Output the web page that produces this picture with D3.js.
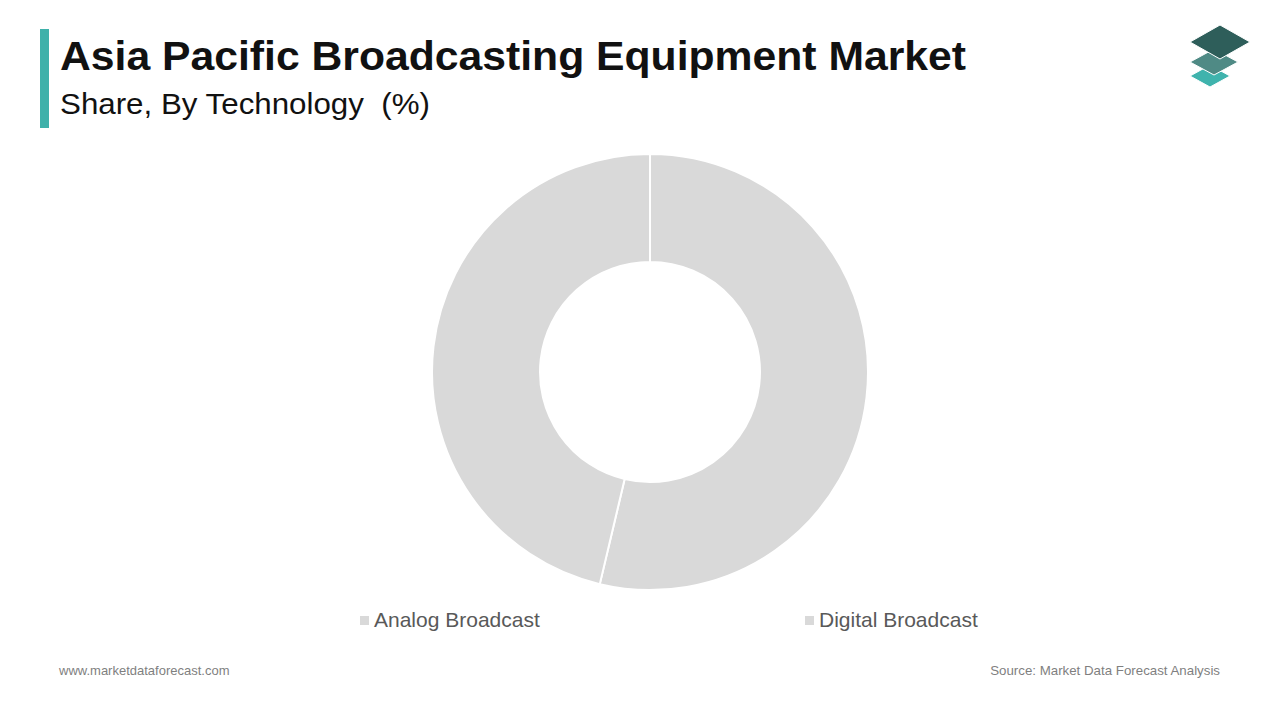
<!DOCTYPE html>
<html><head><meta charset="utf-8">
<script src="https://cdn.jsdelivr.net/npm/d3@7"></script>
<style>body{margin:0;background:#fff;font-family:Arial,"Liberation Sans",sans-serif}</style>
</head><body><div id="chart"></div>
<script>
const categories = ["Analog Broadcast", "Digital Broadcast"];
const shares = [53.7, 46.3];
const colors = ["#d9d9d9", "#d9d9d9"];

const width = 1280, height = 720;
const svg = d3.select("#chart").append("svg").attr("width", width).attr("height", height);

svg.append("rect").attr("x", 40).attr("y", 29).attr("width", 9).attr("height", 99).attr("fill", "#3fb1aa");
svg.append("text").attr("x", 60).attr("y", 70).attr("font-size", 40).attr("font-weight", "bold").attr("fill", "#111")
    .attr("textLength", 906).attr("lengthAdjust", "spacingAndGlyphs")
    .text("Asia Pacific Broadcasting Equipment Market");
svg.append("text").attr("x", 60).attr("y", 114).attr("font-size", 30).attr("fill", "#111")
    .attr("textLength", 370).attr("lengthAdjust", "spacingAndGlyphs")
    .style("white-space", "pre").text("Share, By Technology  (%)");

// logo
const logo = svg.append("g");
[[1210, 76, 20, 11, "#3fb3ad"], [1214, 62, 24, 13, "#4f8a85"], [1220, 42, 30, 17, "#2e5e5a"]].forEach(([x, y, w, h, c]) => {
    logo.append("path").attr("d", `M${x},${y - h}L${x + w},${y}L${x},${y + h}L${x - w},${y}Z`)
        .attr("fill", c).attr("stroke", "#fff").attr("stroke-width", 1).attr("stroke-linejoin", "round");
});

const cx = 650, cy = 372;
const pie = d3.pie().sort(null).value(d => d);
const arc = d3.arc().innerRadius(110).outerRadius(218);
svg.append("g").attr("transform", `translate(${cx},${cy})`)
    .selectAll("path").data(pie(shares)).enter().append("path")
    .attr("d", arc).attr("fill", (d, i) => colors[i]).attr("stroke", "#fff").attr("stroke-width", 2);

const legendX = [360, 805];
categories.forEach((c, i) => {
    svg.append("rect").attr("x", legendX[i]).attr("y", 616).attr("width", 9).attr("height", 9).attr("fill", colors[i]);
    svg.append("text").attr("x", legendX[i] + 14).attr("y", 627).attr("font-size", 21).attr("fill", "#595959").text(c);
});

svg.append("text").attr("x", 59).attr("y", 675).attr("font-size", 13).attr("fill", "#7f7f7f").text("www.marketdataforecast.com");
svg.append("text").attr("x", 1220).attr("y", 675).attr("font-size", 13.3).attr("fill", "#7f7f7f").attr("text-anchor", "end")
    .text("Source: Market Data Forecast Analysis");
</script></body></html>
